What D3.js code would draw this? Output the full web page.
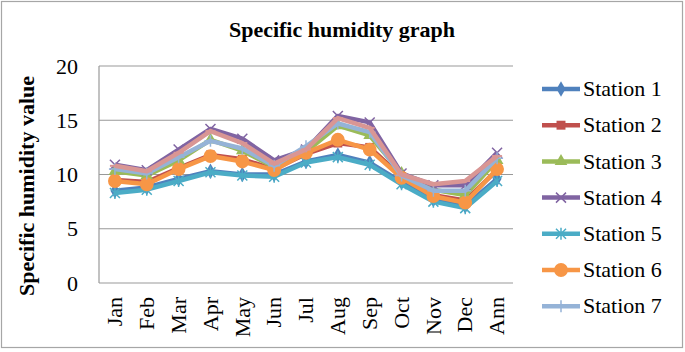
<!DOCTYPE html>
<html>
<head>
<meta charset="utf-8">
<script src="https://cdn.jsdelivr.net/npm/d3@7"></script>
<style>
  body { margin: 0; background: #fff; }
</style>
</head>
<body>
<div class="content"></div>
<script>
const SVGWIDTH = 685
const SVGHEIGHT = 352
const FONT = "'Liberation Serif', 'Times New Roman', serif"

const months = ["Jan","Feb","Mar","Apr","May","Jun","Jul","Aug","Sep","Oct","Nov","Dec","Ann"];
const yTicks = [0, 5, 10, 15, 20];

const station1 = [8.5, 8.8, 9.6, 10.3, 10.0, 10.0, 11.2, 11.8, 11.1, 9.3, 7.7, 7.1, 9.6];
const station2 = [9.5, 9.3, 10.6, 11.8, 11.4, 10.5, 11.9, 12.9, 12.5, 9.8, 8.1, 7.6, 10.4];
const station3 = [10.3, 9.9, 11.3, 13.2, 12.2, 10.7, 12.1, 14.5, 13.6, 10.1, 8.6, 8.1, 11.3];
const station4 = [10.9, 10.4, 12.3, 14.2, 13.3, 11.3, 12.3, 15.4, 14.8, 10.1, 9.0, 9.0, 12.0];
const station5 = [8.3, 8.6, 9.4, 10.2, 9.9, 9.8, 11.1, 11.6, 10.9, 9.1, 7.5, 6.9, 9.4];
const station6 = [9.4, 9.1, 10.5, 11.7, 11.2, 10.4, 12.0, 13.2, 12.3, 9.7, 8.0, 7.4, 10.5];
const station7 = [10.5, 10.1, 11.6, 13.1, 12.4, 10.8, 12.6, 14.7, 13.9, 9.9, 8.5, 8.5, 11.5];
const station8 = [10.8, 10.3, 12.0, 14.0, 12.9, 11.0, 12.3, 15.2, 14.3, 10.0, 9.1, 9.4, 11.7];

const seriesNames = ["Station 1","Station 2","Station 3","Station 4","Station 5","Station 6","Station 7","Station 8"];
const seriesValues = [station1, station2, station3, station4, station5, station6, station7, station8];
const seriesColors = ["#4F81BD","#C0504D","#9BBB59","#8064A2","#4BACC6","#F79646","#95B3D7","#D99694"];
const seriesMarkers = ["diamond","square","triangle","x","asterisk","circle","plus","dash"];
const legendCount = 7; // the 8th entry is cut off in the original

const svg = d3.select(".content").append("svg").attr("width", SVGWIDTH).attr("height", SVGHEIGHT);

// outer frame
svg.append("rect").attr("x", 1.5).attr("y", 1.5).attr("width", 681).attr("height", 346)
   .attr("fill", "#fff").attr("stroke", "#a6a6a6").attr("stroke-width", 1.2);

svg.append("text").attr("x", 342).attr("y", 37).attr("text-anchor", "middle")
   .style("font-family", FONT).style("font-weight", "bold").style("font-size", "22px")
   .text("Specific humidity graph");

const plotLeft = 99, plotRight = 513, plotTop = 66, plotBottom = 283;

let xscale = d3.scaleBand().domain(months).range([plotLeft, plotRight]);
let yscale = d3.scaleLinear().domain([0, 20]).range([plotBottom, plotTop]);

// gridlines
svg.append("g").selectAll("line").data(yTicks).join("line")
   .attr("x1", plotLeft).attr("x2", plotRight)
   .attr("y1", d => yscale(d)).attr("y2", d => yscale(d))
   .attr("stroke", "#999").attr("stroke-width", 1.2);

// y axis line
svg.append("line").attr("x1", plotLeft).attr("x2", plotLeft).attr("y1", plotTop).attr("y2", plotBottom)
   .attr("stroke", "#999").attr("stroke-width", 1.2);

let yaxis = d3.axisLeft(yscale).tickValues(yTicks).tickSize(0).tickPadding(21);
let yg = svg.append("g").attr("transform", `translate(${plotLeft},0)`).call(yaxis);
yg.select(".domain").remove();
yg.selectAll("text").style("font-size", "22px").style("font-family", FONT).attr("fill", "#000");

let xaxis = d3.axisBottom(xscale).tickSize(0);
let xg = svg.append("g").attr("transform", `translate(0,${plotBottom})`).call(xaxis);
xg.select(".domain").remove();
xg.selectAll("text")
  .attr("transform", "rotate(-90)")
  .attr("x", -14).attr("y", 0).attr("dy", "0.33em")
  .attr("text-anchor", "end")
  .style("font-size", "22px").style("font-family", FONT).attr("fill", "#000");

// y axis title
svg.append("text").attr("transform", "translate(34,186) rotate(-90)").attr("text-anchor", "middle")
   .style("font-family", FONT).style("font-weight", "bold").style("font-size", "22px")
   .text("Specific humidity value");

function drawMarker(g, type, color) {
  if (type === "diamond") g.append("path").attr("d", d3.symbol(d3.symbolDiamond, 70)()).attr("fill", color);
  else if (type === "square") g.append("path").attr("d", d3.symbol(d3.symbolSquare, 80)()).attr("fill", color);
  else if (type === "triangle") g.append("path").attr("d", d3.symbol(d3.symbolTriangle, 70)()).attr("fill", color);
  else if (type === "circle") g.append("path").attr("d", d3.symbol(d3.symbolCircle, 150)()).attr("fill", color);
  else if (type === "x") g.append("path").attr("d", "M-5,-5L5,5M-5,5L5,-5").attr("stroke", color).attr("stroke-width", 1.5).attr("fill", "none");
  else if (type === "asterisk") g.append("path").attr("d", "M-5,-5L5,5M-5,5L5,-5M0,-6L0,6").attr("stroke", color).attr("stroke-width", 1.5).attr("fill", "none");
  else if (type === "plus") g.append("path").attr("d", "M-6,0L6,0M0,-6L0,6").attr("stroke", color).attr("stroke-width", 1.5).attr("fill", "none");
  else if (type === "dash") g.append("path").attr("d", "M-5,0L5,0").attr("stroke", color).attr("stroke-width", 2).attr("fill", "none");
}

let line = d3.line()
  .x((d, i) => xscale(months[i]) + xscale.bandwidth() / 2)
  .y(d => yscale(d));

seriesValues.forEach((vals, s) => {
  let g = svg.append("g");
  g.append("path").attr("d", line(vals)).attr("fill", "none")
   .attr("stroke", seriesColors[s]).attr("stroke-width", 4.5).attr("stroke-linejoin", "round");
  vals.forEach((v, i) => {
    let m = g.append("g").attr("transform", `translate(${xscale(months[i]) + xscale.bandwidth() / 2},${yscale(v)})`);
    drawMarker(m, seriesMarkers[s], seriesColors[s]);
  });
});

// legend
let legend = svg.append("g");
seriesNames.slice(0, legendCount).forEach((name, s) => {
  let ly = 89 + s * 36.2;
  let lg = legend.append("g");
  lg.append("line").attr("x1", 542).attr("x2", 580).attr("y1", ly).attr("y2", ly)
    .attr("stroke", seriesColors[s]).attr("stroke-width", 4.5);
  let m = lg.append("g").attr("transform", `translate(561,${ly})`);
  drawMarker(m, seriesMarkers[s], seriesColors[s]);
  lg.append("text").attr("x", 583).attr("y", ly).attr("dy", "0.33em")
    .style("font-family", FONT).style("font-size", "22px").text(name);
});
</script>
</body>
</html>
